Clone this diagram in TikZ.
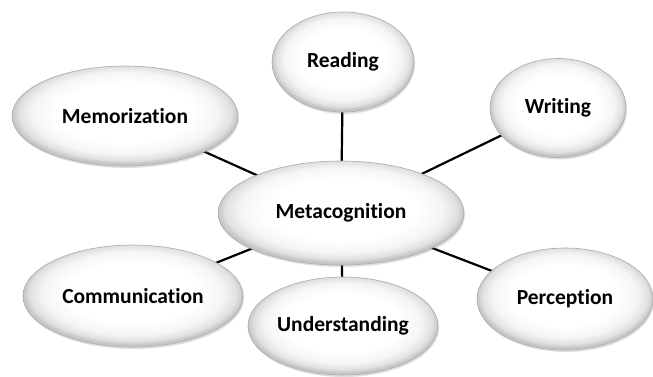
\documentclass[tikz,border=0pt]{standalone}
\usepackage{fontspec}
\setmainfont{Carlito}[RawFeature={-liga;-dlig}]
\usetikzlibrary{shapes.geometric,shadows}
\pgfdeclareradialshading{bub}{\pgfpoint{0bp}{2.5bp}}{color(0bp)=(white); color(15bp)=(white); color(20.5bp)=(gray!8); color(23.5bp)=(gray!24); color(25bp)=(gray!45); color(50bp)=(gray!50)}
\tikzset{
  bubble/.style={ellipse, draw=gray!65, line width=0.6pt, shade, shading=bub,
    inner sep=0pt, font=\bfseries\fontsize{21.5}{23}\selectfont, text=black,
    drop shadow={shadow xshift=1pt, shadow yshift=-2pt, opacity=0.25, fill=gray}},
  link/.style={line width=2.2pt, black}
}
\begin{document}
\begin{tikzpicture}[x=1pt,y=-1pt]
\useasboundingbox (0,0) rectangle (653,376);
\fill[white] (0,0) rectangle (653,376);
\coordinate (cMeta) at (341,213);
\coordinate (cMem) at (125,116);
\coordinate (cRead) at (343,62);
\coordinate (cWri) at (558,108);
\coordinate (cCom) at (133,296);
\coordinate (cUnd) at (343,326);
\coordinate (cPer) at (565,299);
\foreach \c in {cMem,cRead,cWri,cCom,cUnd,cPer}
  \draw[link] (cMeta) -- (\c);
\node[bubble, minimum width=226pt, minimum height=100pt] (mem) at (cMem) {Memorization};
\node[bubble, minimum width=142pt, minimum height=100pt] (read) at (cRead) {Reading};
\node[bubble, minimum width=136pt, minimum height=99pt] (wri) at (cWri) {Writing};
\node[bubble, minimum width=220pt, minimum height=102pt] (com) at (cCom) {Communication};
\node[bubble, minimum width=190pt, minimum height=98pt] (und) at (cUnd) {Understanding};
\node[bubble, minimum width=176pt, minimum height=102pt] (per) at (cPer) {Perception};
\node[bubble, minimum width=246pt, minimum height=104pt] (meta) at (cMeta) {Metacognition};
\end{tikzpicture}
\end{document}
